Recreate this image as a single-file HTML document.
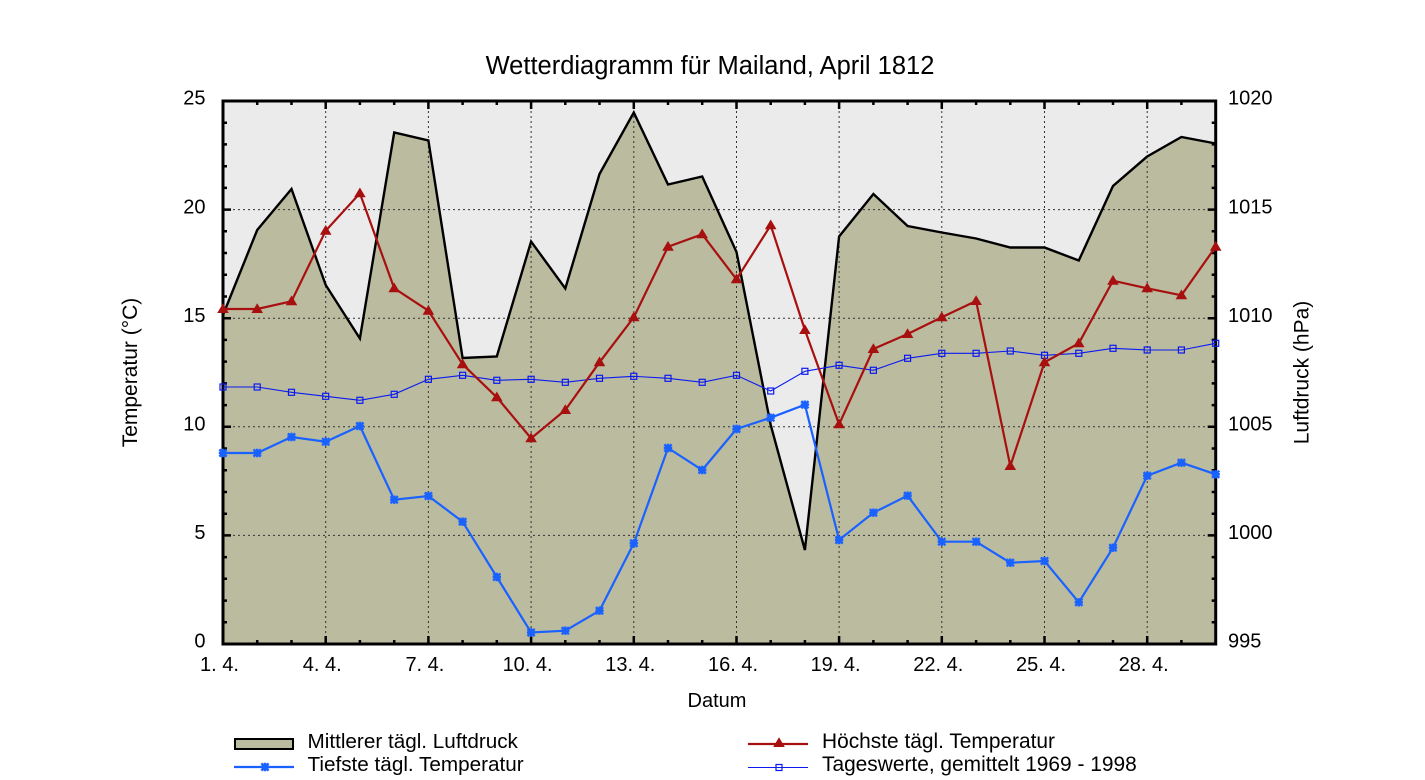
<!DOCTYPE html>
<html><head><meta charset="utf-8"><style>
html,body{margin:0;padding:0;background:#fff;}
svg{display:block;font-family:"Liberation Sans",Arial,sans-serif;}
</style></head><body>
<svg width="1425" height="780" viewBox="0 0 1425 780" xmlns="http://www.w3.org/2000/svg">
<defs>
<g id="tri"><polygon points="0,-5.8 -5.8,4 5.8,4" fill="#a81010"/></g>
<g id="star"><path d="M-3.6,-3.6L3.6,3.6M-3.6,3.6L3.6,-3.6M0,-4.2V4.2M-4.2,0H4.2" stroke="#1a62ff" stroke-width="2.4" fill="none"/><rect x="-2.6" y="-2.6" width="5.2" height="5.2" fill="#1a62ff"/></g>
<g id="sq"><rect x="-3" y="-3" width="6" height="6" fill="none" stroke="#0b1bf0" stroke-width="1.2"/></g>
</defs>
<rect width="1425" height="780" fill="#fff"/>
<text x="710" y="74" font-size="25.5" text-anchor="middle" fill="#000">Wetterdiagramm für Mailand, April 1812</text>

<!-- plot background -->
<rect x="223" y="101" width="992.7" height="543" fill="#ebebeb"/>
<!-- pressure area -->
<polygon fill="#bbbba0" points="223,644 223,315 257.2,230 291.5,189 325.7,285 359.9,338.5 394.2,132.5 428.4,140.5 462.6,358 496.8,356.5 531.1,241.5 565.3,288.5 599.5,174 633.8,112.5 668,184.5 702.2,176.5 736.5,252 770.7,425 804.9,550 839.1,236.5 873.4,194 907.6,226 941.8,232.5 976.1,238.5 1010.3,247.5 1044.5,247.5 1078.8,260.5 1113,186 1147.2,156.5 1181.4,137 1215.7,143.5 1215.7,644"/>

<!-- grid -->
<g stroke="#333" stroke-width="1" stroke-dasharray="2 3" fill="none">
<line x1="223" y1="535.4" x2="1215.7" y2="535.4"/>
<line x1="223" y1="426.8" x2="1215.7" y2="426.8"/>
<line x1="223" y1="318.2" x2="1215.7" y2="318.2"/>
<line x1="223" y1="209.6" x2="1215.7" y2="209.6"/>
<line x1="325.7" y1="101" x2="325.7" y2="644"/>
<line x1="428.4" y1="101" x2="428.4" y2="644"/>
<line x1="531.1" y1="101" x2="531.1" y2="644"/>
<line x1="633.8" y1="101" x2="633.8" y2="644"/>
<line x1="736.5" y1="101" x2="736.5" y2="644"/>
<line x1="839.1" y1="101" x2="839.1" y2="644"/>
<line x1="941.8" y1="101" x2="941.8" y2="644"/>
<line x1="1044.5" y1="101" x2="1044.5" y2="644"/>
<line x1="1147.2" y1="101" x2="1147.2" y2="644"/>
</g>

<!-- ticks -->
<g stroke="#000" stroke-width="2.5" fill="none">
<path d="M223,644h8M223,622.3h4M223,600.6h4M223,578.8h4M223,557.1h4M223,535.4h8M223,513.7h4M223,492h4M223,470.2h4M223,448.5h4M223,426.8h8M223,405.1h4M223,383.4h4M223,361.6h4M223,339.9h4M223,318.2h8M223,296.5h4M223,274.8h4M223,253h4M223,231.3h4M223,209.6h8M223,187.9h4M223,166.2h4M223,144.4h4M223,122.7h4M223,101h8"/>
<path d="M1215.7,644h-8M1215.7,622.3h-4M1215.7,600.6h-4M1215.7,578.8h-4M1215.7,557.1h-4M1215.7,535.4h-8M1215.7,513.7h-4M1215.7,492h-4M1215.7,470.2h-4M1215.7,448.5h-4M1215.7,426.8h-8M1215.7,405.1h-4M1215.7,383.4h-4M1215.7,361.6h-4M1215.7,339.9h-4M1215.7,318.2h-8M1215.7,296.5h-4M1215.7,274.8h-4M1215.7,253h-4M1215.7,231.3h-4M1215.7,209.6h-8M1215.7,187.9h-4M1215.7,166.2h-4M1215.7,144.4h-4M1215.7,122.7h-4M1215.7,101h-8"/>
<path d="M257.2,644v-4M291.5,644v-4M325.7,644v-8M359.9,644v-4M394.2,644v-4M428.4,644v-8M462.6,644v-4M496.8,644v-4M531.1,644v-8M565.3,644v-4M599.5,644v-4M633.8,644v-8M668,644v-4M702.2,644v-4M736.5,644v-8M770.7,644v-4M804.9,644v-4M839.1,644v-8M873.4,644v-4M907.6,644v-4M941.8,644v-8M976.1,644v-4M1010.3,644v-4M1044.5,644v-8M1078.8,644v-4M1113,644v-4M1147.2,644v-8M1181.4,644v-4"/>
<path d="M257.2,101v4M291.5,101v4M325.7,101v8M359.9,101v4M394.2,101v4M428.4,101v8M462.6,101v4M496.8,101v4M531.1,101v8M565.3,101v4M599.5,101v4M633.8,101v8M668,101v4M702.2,101v4M736.5,101v8M770.7,101v4M804.9,101v4M839.1,101v8M873.4,101v4M907.6,101v4M941.8,101v8M976.1,101v4M1010.3,101v4M1044.5,101v8M1078.8,101v4M1113,101v4M1147.2,101v8M1181.4,101v4"/>
</g>

<!-- frame -->
<rect x="223" y="101" width="992.7" height="543" fill="none" stroke="#000" stroke-width="3"/>

<!-- pressure line -->
<polyline fill="none" stroke="#000" stroke-width="2.4" stroke-linejoin="miter" points="223,315 257.2,230 291.5,189 325.7,285 359.9,338.5 394.2,132.5 428.4,140.5 462.6,358 496.8,356.5 531.1,241.5 565.3,288.5 599.5,174 633.8,112.5 668,184.5 702.2,176.5 736.5,252 770.7,425 804.9,550 839.1,236.5 873.4,194 907.6,226 941.8,232.5 976.1,238.5 1010.3,247.5 1044.5,247.5 1078.8,260.5 1113,186 1147.2,156.5 1181.4,137 1215.7,143.5"/>

<!-- average line -->
<polyline fill="none" stroke="#0b1bf0" stroke-width="1.1" points="223,387 257.2,387 291.5,392.3 325.7,396.3 359.9,400.3 394.2,394.3 428.4,379.3 462.6,375.3 496.8,380.3 531.1,379.3 565.3,382.3 599.5,378.3 633.8,376.3 668,378.3 702.2,382.3 736.5,375.3 770.7,391 804.9,371.3 839.1,365.3 873.4,370.3 907.6,358.3 941.8,353.3 976.1,353.3 1010.3,351 1044.5,355.3 1078.8,353.3 1113,348.3 1147.2,350 1181.4,350 1215.7,343.3"/>
<g>
<use href="#sq" x="223" y="387"/><use href="#sq" x="257.2" y="387"/><use href="#sq" x="291.5" y="392.3"/><use href="#sq" x="325.7" y="396.3"/><use href="#sq" x="359.9" y="400.3"/><use href="#sq" x="394.2" y="394.3"/><use href="#sq" x="428.4" y="379.3"/><use href="#sq" x="462.6" y="375.3"/><use href="#sq" x="496.8" y="380.3"/><use href="#sq" x="531.1" y="379.3"/><use href="#sq" x="565.3" y="382.3"/><use href="#sq" x="599.5" y="378.3"/><use href="#sq" x="633.8" y="376.3"/><use href="#sq" x="668" y="378.3"/><use href="#sq" x="702.2" y="382.3"/><use href="#sq" x="736.5" y="375.3"/><use href="#sq" x="770.7" y="391"/><use href="#sq" x="804.9" y="371.3"/><use href="#sq" x="839.1" y="365.3"/><use href="#sq" x="873.4" y="370.3"/><use href="#sq" x="907.6" y="358.3"/><use href="#sq" x="941.8" y="353.3"/><use href="#sq" x="976.1" y="353.3"/><use href="#sq" x="1010.3" y="351"/><use href="#sq" x="1044.5" y="355.3"/><use href="#sq" x="1078.8" y="353.3"/><use href="#sq" x="1113" y="348.3"/><use href="#sq" x="1147.2" y="350"/><use href="#sq" x="1181.4" y="350"/><use href="#sq" x="1215.7" y="343.3"/>
</g>

<!-- min temperature -->
<polyline fill="none" stroke="#1a62ff" stroke-width="2.2" points="223,453 257.2,453 291.5,437 325.7,441.7 359.9,426 394.2,499.7 428.4,496 462.6,521.7 496.8,577 531.1,632.5 565.3,630.7 599.5,610.7 633.8,543.3 668,448 702.2,470 736.5,429 770.7,417.7 804.9,404.7 839.1,540 873.4,512.7 907.6,495.7 941.8,541.7 976.1,541.7 1010.3,562.7 1044.5,561 1078.8,602.3 1113,547.7 1147.2,475.7 1181.4,462.7 1215.7,474.3"/>
<g>
<use href="#star" x="223" y="453"/><use href="#star" x="257.2" y="453"/><use href="#star" x="291.5" y="437"/><use href="#star" x="325.7" y="441.7"/><use href="#star" x="359.9" y="426"/><use href="#star" x="394.2" y="499.7"/><use href="#star" x="428.4" y="496"/><use href="#star" x="462.6" y="521.7"/><use href="#star" x="496.8" y="577"/><use href="#star" x="531.1" y="632.5"/><use href="#star" x="565.3" y="630.7"/><use href="#star" x="599.5" y="610.7"/><use href="#star" x="633.8" y="543.3"/><use href="#star" x="668" y="448"/><use href="#star" x="702.2" y="470"/><use href="#star" x="736.5" y="429"/><use href="#star" x="770.7" y="417.7"/><use href="#star" x="804.9" y="404.7"/><use href="#star" x="839.1" y="540"/><use href="#star" x="873.4" y="512.7"/><use href="#star" x="907.6" y="495.7"/><use href="#star" x="941.8" y="541.7"/><use href="#star" x="976.1" y="541.7"/><use href="#star" x="1010.3" y="562.7"/><use href="#star" x="1044.5" y="561"/><use href="#star" x="1078.8" y="602.3"/><use href="#star" x="1113" y="547.7"/><use href="#star" x="1147.2" y="475.7"/><use href="#star" x="1181.4" y="462.7"/><use href="#star" x="1215.7" y="474.3"/>
</g>

<!-- max temperature -->
<polyline fill="none" stroke="#a81010" stroke-width="2.2" points="223,309 257.2,309 291.5,301.3 325.7,230.7 359.9,193.3 394.2,288.3 428.4,310.7 462.6,364.3 496.8,397.3 531.1,438.3 565.3,410 599.5,362.3 633.8,317.3 668,246.7 702.2,234.3 736.5,279.3 770.7,225.3 804.9,330 839.1,424.3 873.4,349 907.6,334 941.8,317.3 976.1,301 1010.3,466 1044.5,362.3 1078.8,343.3 1113,280.7 1147.2,288.3 1181.4,295.3 1215.7,246.7"/>
<g>
<use href="#tri" x="223" y="309"/><use href="#tri" x="257.2" y="309"/><use href="#tri" x="291.5" y="301.3"/><use href="#tri" x="325.7" y="230.7"/><use href="#tri" x="359.9" y="193.3"/><use href="#tri" x="394.2" y="288.3"/><use href="#tri" x="428.4" y="310.7"/><use href="#tri" x="462.6" y="364.3"/><use href="#tri" x="496.8" y="397.3"/><use href="#tri" x="531.1" y="438.3"/><use href="#tri" x="565.3" y="410"/><use href="#tri" x="599.5" y="362.3"/><use href="#tri" x="633.8" y="317.3"/><use href="#tri" x="668" y="246.7"/><use href="#tri" x="702.2" y="234.3"/><use href="#tri" x="736.5" y="279.3"/><use href="#tri" x="770.7" y="225.3"/><use href="#tri" x="804.9" y="330"/><use href="#tri" x="839.1" y="424.3"/><use href="#tri" x="873.4" y="349"/><use href="#tri" x="907.6" y="334"/><use href="#tri" x="941.8" y="317.3"/><use href="#tri" x="976.1" y="301"/><use href="#tri" x="1010.3" y="466"/><use href="#tri" x="1044.5" y="362.3"/><use href="#tri" x="1078.8" y="343.3"/><use href="#tri" x="1113" y="280.7"/><use href="#tri" x="1147.2" y="288.3"/><use href="#tri" x="1181.4" y="295.3"/><use href="#tri" x="1215.7" y="246.7"/>
</g>

<!-- y labels left -->
<g font-size="20" fill="#000" text-anchor="end">
<text x="205.5" y="647.7">0</text>
<text x="205.5" y="539.1">5</text>
<text x="205.5" y="430.5">10</text>
<text x="205.5" y="321.9">15</text>
<text x="205.5" y="213.3">20</text>
<text x="205.5" y="104.7">25</text>
</g>
<!-- y labels right -->
<g font-size="20" fill="#000">
<text x="1228" y="647.7">995</text>
<text x="1228" y="539.1">1000</text>
<text x="1228" y="430.5">1005</text>
<text x="1228" y="321.9">1010</text>
<text x="1228" y="213.3">1015</text>
<text x="1228" y="104.7">1020</text>
</g>
<!-- x labels -->
<g font-size="20" fill="#000" text-anchor="middle">
<text x="219.5" y="671">1. 4.</text>
<text x="322.2" y="671">4. 4.</text>
<text x="424.9" y="671">7. 4.</text>
<text x="527.6" y="671">10. 4.</text>
<text x="630.3" y="671">13. 4.</text>
<text x="733" y="671">16. 4.</text>
<text x="835.6" y="671">19. 4.</text>
<text x="938.3" y="671">22. 4.</text>
<text x="1041" y="671">25. 4.</text>
<text x="1143.7" y="671">28. 4.</text>
</g>
<text x="717" y="707" font-size="20" text-anchor="middle">Datum</text>
<text transform="translate(137,372.5) rotate(-90)" font-size="21" text-anchor="middle">Temperatur (°C)</text>
<text transform="translate(1308.5,372.5) rotate(-90)" font-size="21" text-anchor="middle">Luftdruck (hPa)</text>

<!-- legend -->
<rect x="235" y="739" width="58" height="10" fill="#bbbba0" stroke="#000" stroke-width="2"/>
<text x="307.5" y="748" font-size="20.7">Mittlerer tägl. Luftdruck</text>
<line x1="234" y1="767" x2="294" y2="767" stroke="#1a62ff" stroke-width="2.2"/>
<use href="#star" x="265" y="767"/>
<text x="307.5" y="771" font-size="20.7">Tiefste tägl. Temperatur</text>
<line x1="748" y1="744" x2="808" y2="744" stroke="#a81010" stroke-width="2.2"/>
<use href="#tri" x="779" y="743"/>
<text x="822" y="748" font-size="20.9">Höchste tägl. Temperatur</text>
<line x1="748" y1="767.5" x2="808" y2="767.5" stroke="#0b1bf0" stroke-width="1.1"/>
<use href="#sq" x="779" y="767.5"/>
<text x="822" y="771" font-size="20.9">Tageswerte, gemittelt 1969 - 1998</text>
</svg>
</body></html>
